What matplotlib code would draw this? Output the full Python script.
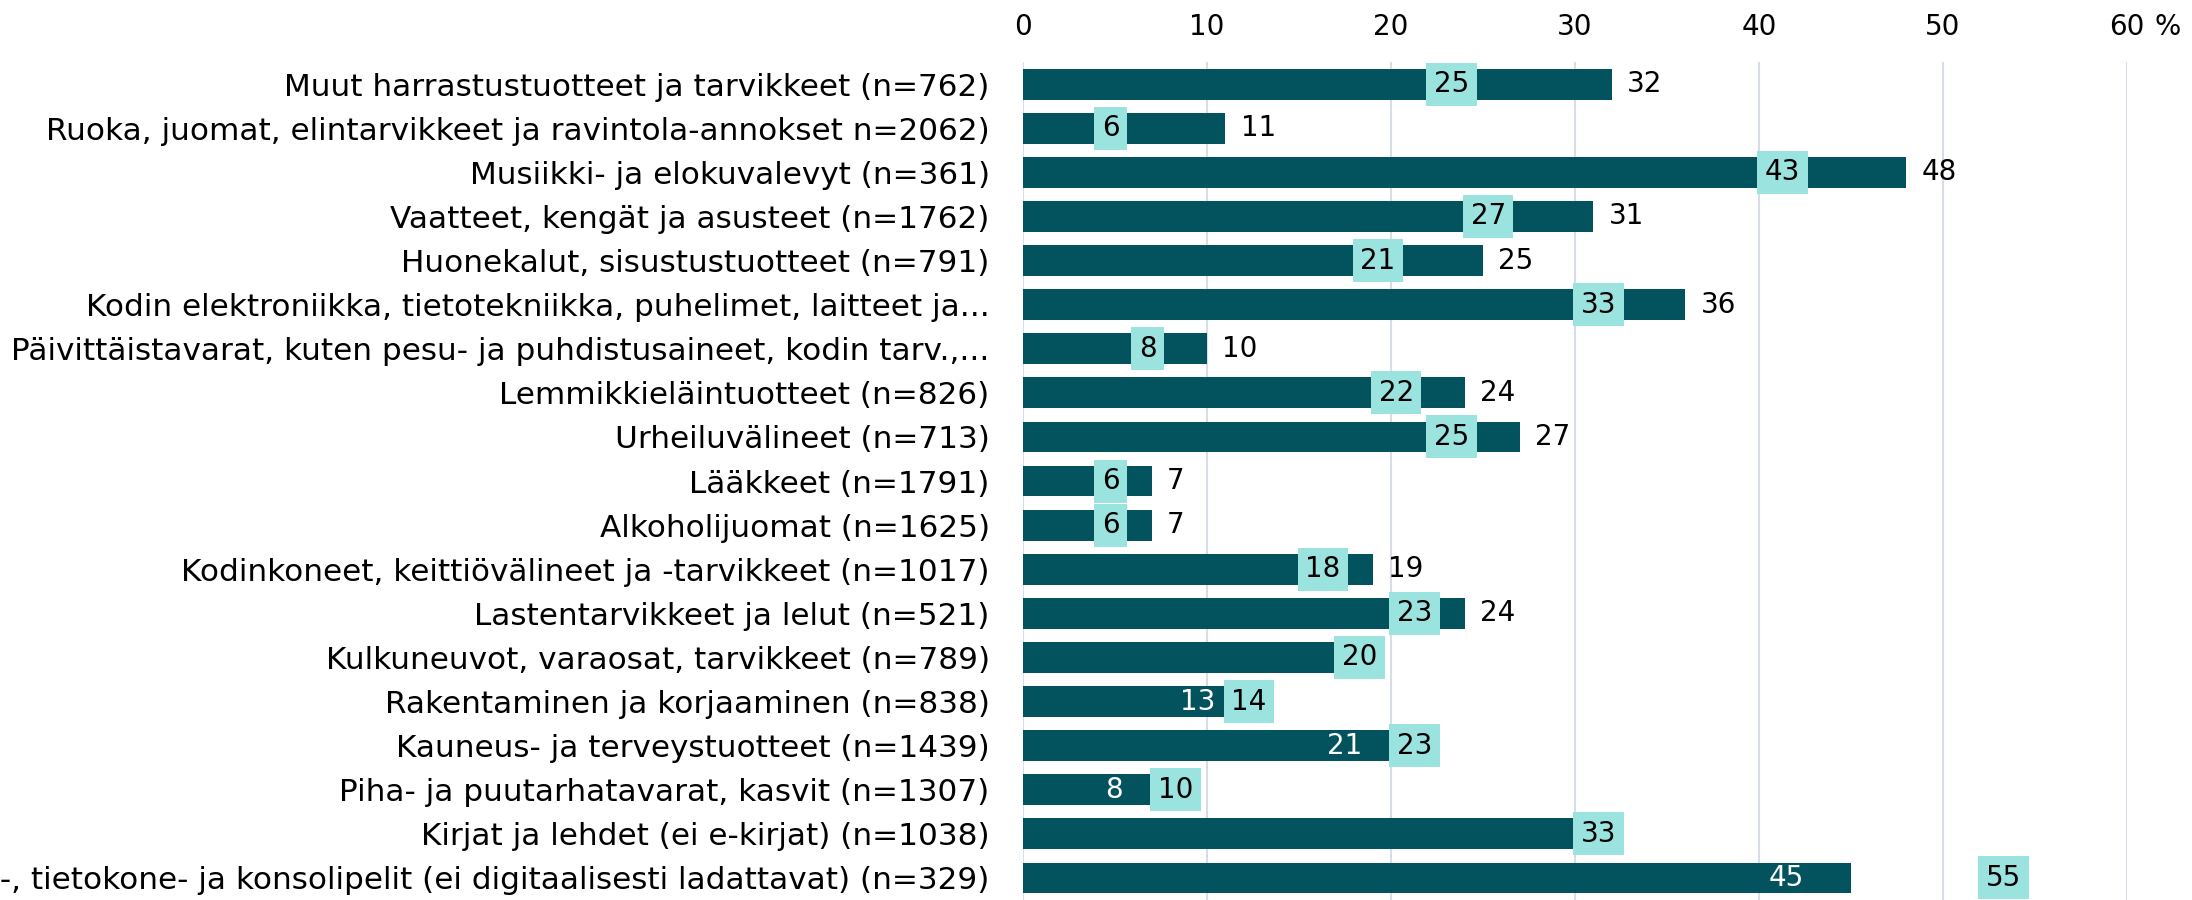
import matplotlib
matplotlib.use("Agg")
import matplotlib.pyplot as plt

plt.rcParams['font.family'] = ['DejaVu Sans']

categories = [
    "Muut harrastustuotteet ja tarvikkeet (n=762)",
    "Ruoka, juomat, elintarvikkeet ja ravintola-annokset n=2062)",
    "Musiikki- ja elokuvalevyt (n=361)",
    "Vaatteet, kengät ja asusteet (n=1762)",
    "Huonekalut, sisustustuotteet (n=791)",
    "Kodin elektroniikka, tietotekniikka, puhelimet, laitteet ja...",
    "Päivittäistavarat, kuten pesu- ja puhdistusaineet, kodin tarv.,...",
    "Lemmikkieläintuotteet (n=826)",
    "Urheiluvälineet (n=713)",
    "Lääkkeet (n=1791)",
    "Alkoholijuomat (n=1625)",
    "Kodinkoneet, keittiövälineet ja -tarvikkeet (n=1017)",
    "Lastentarvikkeet ja lelut (n=521)",
    "Kulkuneuvot, varaosat, tarvikkeet (n=789)",
    "Rakentaminen ja korjaaminen (n=838)",
    "Kauneus- ja terveystuotteet (n=1439)",
    "Piha- ja puutarhatavarat, kasvit (n=1307)",
    "Kirjat ja lehdet (ei e-kirjat) (n=1038)",
    "Video-, tietokone- ja konsolipelit (ei digitaalisesti ladattavat) (n=329)",
]
bar_values = [32, 11, 48, 31, 25, 36, 10, 24, 27, 7, 7, 19, 24, 17, 13, 21, 8, 30, 45]
box_values = [25, 6, 43, 27, 21, 33, 8, 22, 25, 6, 6, 18, 23, 20, 14, 23, 10, 33, 55]
label_inside = [False] * 14 + [True, True, True, False, True]
xticks = [0, 10, 20, 30, 40, 50, 60]

DARK = "#02535D"
LIGHT = "#9BE3DE"
GRID = "#D6DDE4"

fig = plt.figure(figsize=(21.92, 9), dpi=100)
ax = fig.add_axes([0.4667, 0.0, 0.9703 - 0.4667, 0.931])

y = list(range(len(categories)))
ax.barh(y, bar_values, height=0.7, color=DARK, zorder=2)

for i in y:
    v = bar_values[i]
    if label_inside[i]:
        ax.annotate(str(v), xy=(v, i), xytext=(-34, 0), textcoords="offset points",
                    ha="right", va="center", fontsize=20, color="white", zorder=3)
    else:
        ax.annotate(str(v), xy=(v, i), xytext=(11, 0), textcoords="offset points",
                    ha="left", va="center", fontsize=20, color="black", zorder=3)
    b = box_values[i]
    ax.annotate(str(b), xy=(b, i), xytext=(-10, 0), textcoords="offset points",
                ha="right", va="center", fontsize=20, color="black", zorder=5,
                bbox=dict(boxstyle="square,pad=0.27", fc=LIGHT, ec="none"))

ax.set_xlim(0, 60)
ax.set_ylim(len(categories) - 0.5, -0.5)
ax.set_yticks(y)
ax.set_yticklabels(categories, fontsize=22.4)
ax.set_xticks(xticks)
ax.set_xticklabels([str(t) for t in xticks], fontsize=20)
ax.xaxis.tick_top()
ax.tick_params(axis="x", length=0, pad=15)
ax.tick_params(axis="y", length=0, pad=24)
ax.annotate("%", xy=(60, 1), xycoords=("data", "axes fraction"), xytext=(20, 15),
            textcoords="offset points", ha="left", va="bottom", fontsize=20)

ax.grid(axis="x", color=GRID, linewidth=1.5, zorder=0)
ax.set_axisbelow(True)
for s in ax.spines.values():
    s.set_visible(False)

fig.savefig("out.png", dpi=100)
